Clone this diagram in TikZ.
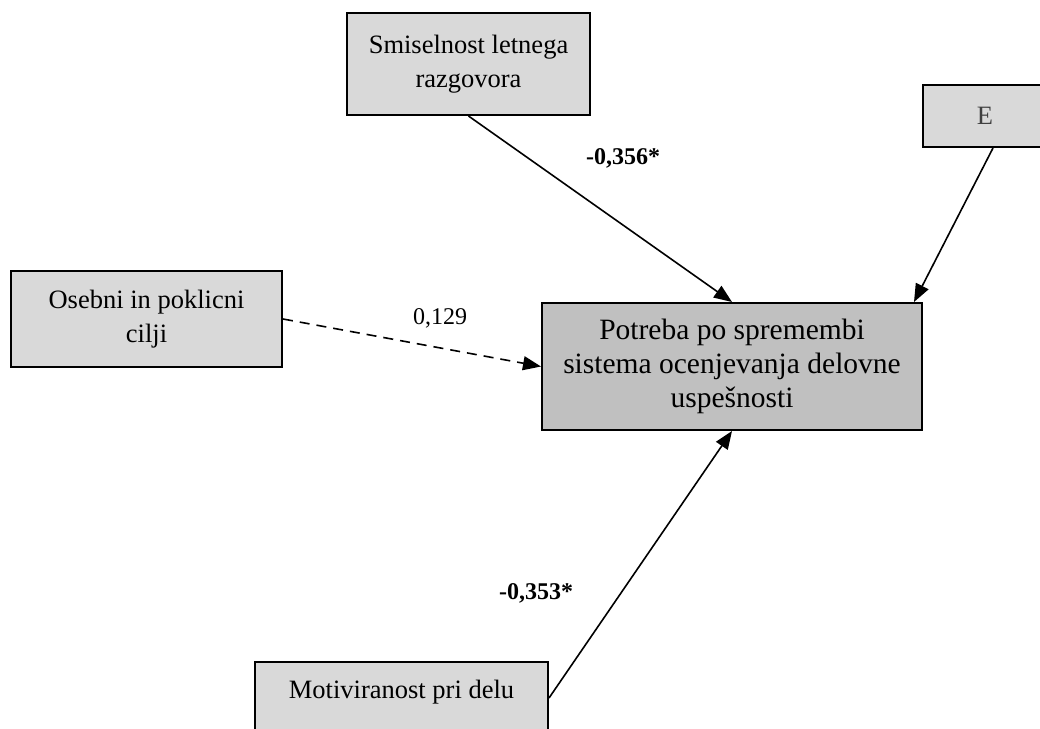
\documentclass[tikz,border=0pt]{standalone}
\usepackage{fontspec}
\setmainfont{Liberation Serif}
\usetikzlibrary{arrows.meta}
\definecolor{boxGray}{HTML}{D9D9D9}
\definecolor{depGray}{HTML}{C0C0C0}

\begin{document}
\begin{tikzpicture}[x=1pt, y=-1pt,
    varbox/.style={draw, line width=2pt, fill=boxGray, align=center, inner sep=0pt,
        font=\fontsize{26.5}{34}\selectfont},
    depbox/.style={varbox, fill=depGray, font=\fontsize{29.5}{34}\selectfont},
    arr/.style={line width=1.6pt, -{Triangle[length=18pt,width=14pt]}},
    coef/.style={font=\fontsize{24}{28}\selectfont}]
    \useasboundingbox (0,0) rectangle (1040,728);
    % variables
    \node[varbox, minimum width=243pt, minimum height=102pt] (smis) at (468.5,64) {Smiselnost letnega\\razgovora};
    \node[varbox, minimum width=124pt, minimum height=62pt, text=black!75] (eps) at (985,116) {E};
    \node[varbox, minimum width=271pt, minimum height=96pt] (ose) at (146.5,319) {Osebni in poklicni\\cilji};
    \node[depbox, minimum width=380pt, minimum height=127pt] (main) at (732,366.5) {Potreba po spremembi\\sistema ocenjevanja delovne\\uspešnosti};
    \node[varbox, minimum width=293pt, text height=36pt, text depth=60pt, anchor=north] (mot) at (401.5,661) {Motiviranost pri delu};
    % paths
    \draw[arr] (smis.south) -- (main.north);
    \draw[arr] ([xshift=8pt]eps.south) -- ([xshift=-9pt]main.north east);
    \draw[arr, dash pattern=on 10pt off 7pt] (ose.east) -- (main.west);
    \draw[arr] ([yshift=12pt]mot.east) -- (main.south);
    % coefficients
    \node[coef, font=\fontsize{24}{28}\selectfont\bfseries] (c1) at (623,158) {-0,356*};
    \node[coef] (c2) at (440,318) {0,129};
    \node[coef, font=\fontsize{24}{28}\selectfont\bfseries] (c3) at (536,593) {-0,353*};
\end{tikzpicture}
\end{document}
